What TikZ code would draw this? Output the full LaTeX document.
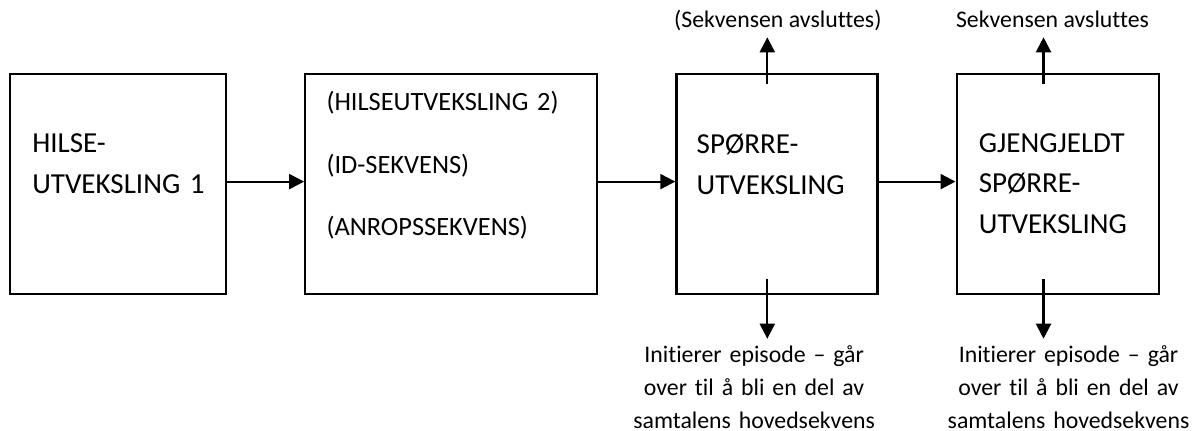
\documentclass[tikz,border=0pt]{standalone}
\usepackage{fontspec}
\setmainfont{Carlito}[Ligatures=NoCommon]
\usetikzlibrary{arrows.meta,positioning}
\definecolor{Ink}{HTML}{000000}
\tikzset{
  seqbox/.style={draw=Ink,fill=white,line width=1.1pt,minimum height=110pt,inner sep=0pt},
  boxtext/.style={anchor=base west,inner sep=0pt,align=left,font=\fontsize{14.5}{20.25}\selectfont},
  outlabel/.style={inner sep=0pt,align=center,font=\fontsize{11.9}{16.3}\selectfont},
  flow/.style={-{Triangle[length=7.5pt,width=7.5pt]},draw=Ink,line width=1.1pt}
}

\begin{document}
\begin{tikzpicture}[x=0.5pt,y=-0.5pt,node distance=38.5pt]
  \useasboundingbox (0,0) rectangle (1194,430);
  % the four steps
  \node[seqbox,minimum width=108pt] (hilse) at (118,184) {};
  \node[seqbox,minimum width=146pt,right=of hilse] (innl) {};
  \node[seqbox,minimum width=100.5pt,right=of innl] (spor) {};
  \node[seqbox,minimum width=101pt,right=of spor] (gjen) {};
  % texts inside
  \node[boxtext,text width=95pt] (hilse-txt) at ([xshift=11.5pt,yshift=-40pt]hilse.north west) {HILSE-\\UTVEKSLING 1};
  \node[boxtext,text width=130pt,font=\fontsize{13.2}{31.25}\selectfont] (innl-txt) at ([xshift=11pt,yshift=-18.85pt]innl.north west) {(HILSEUTVEKSLING 2)\\(ID-SEKVENS)\\(ANROPSSEKVENS)};
  \node[boxtext,text width=82pt] (spor-txt) at ([xshift=10.5pt,yshift=-40.5pt]spor.north west) {SPØRRE-\\UTVEKSLING};
  \node[boxtext,text width=82pt] (gjen-txt) at ([xshift=11.5pt,yshift=-39.75pt]gjen.north west) {GJENGJELDT\\SPØRRE-\\UTVEKSLING};
  % main flow
  \draw[flow] ([yshift=1.2pt]hilse.east) -- ([yshift=1.2pt]innl.west);
  \draw[flow] ([yshift=1.2pt]innl.east) -- ([yshift=1.2pt]spor.west);
  \draw[flow] ([yshift=1.2pt]spor.east) -- ([yshift=1.2pt]gjen.west);
  % exits out of the third box
  \coordinate (spor-ut) at ([xshift=46pt,yshift=-5.5pt]spor.north west);
  \coordinate (spor-inn) at ([xshift=46pt,yshift=8.25pt]spor.south west);
  \node[outlabel,anchor=base,text depth=4.75pt] (spor-slutt) at ([xshift=51.25pt,yshift=22.75pt]spor.north west) {(Sekvensen avsluttes)};
  \node[outlabel,anchor=base,text width=124pt,text height=11.85pt] (spor-episode) at ([xshift=39.4pt,yshift=-33.85pt]spor.south west) {Initierer episode – går\\over til å bli en del av\\samtalens hovedsekvens};
  \draw[flow] (spor-ut) -- (spor-ut |- spor-slutt.south);
  \draw[flow] (spor-inn) -- (spor-inn |- spor-episode.north);
  % exits out of the fourth box
  \coordinate (gjen-ut) at ([xshift=44pt,yshift=-5.5pt]gjen.north west);
  \coordinate (gjen-inn) at ([xshift=44pt,yshift=8pt]gjen.south west);
  \node[outlabel,anchor=base,text depth=4.75pt] (gjen-slutt) at ([xshift=48.5pt,yshift=22.75pt]gjen.north west) {Sekvensen avsluttes};
  \node[outlabel,anchor=base,text width=124pt,text height=11.85pt] (gjen-episode) at ([xshift=56.5pt,yshift=-33.85pt]gjen.south west) {Initierer episode – går\\over til å bli en del av\\samtalens hovedsekvens};
  \draw[flow] (gjen-ut) -- (gjen-ut |- gjen-slutt.south);
  \draw[flow] (gjen-inn) -- (gjen-inn |- gjen-episode.north);
\end{tikzpicture}
\end{document}
